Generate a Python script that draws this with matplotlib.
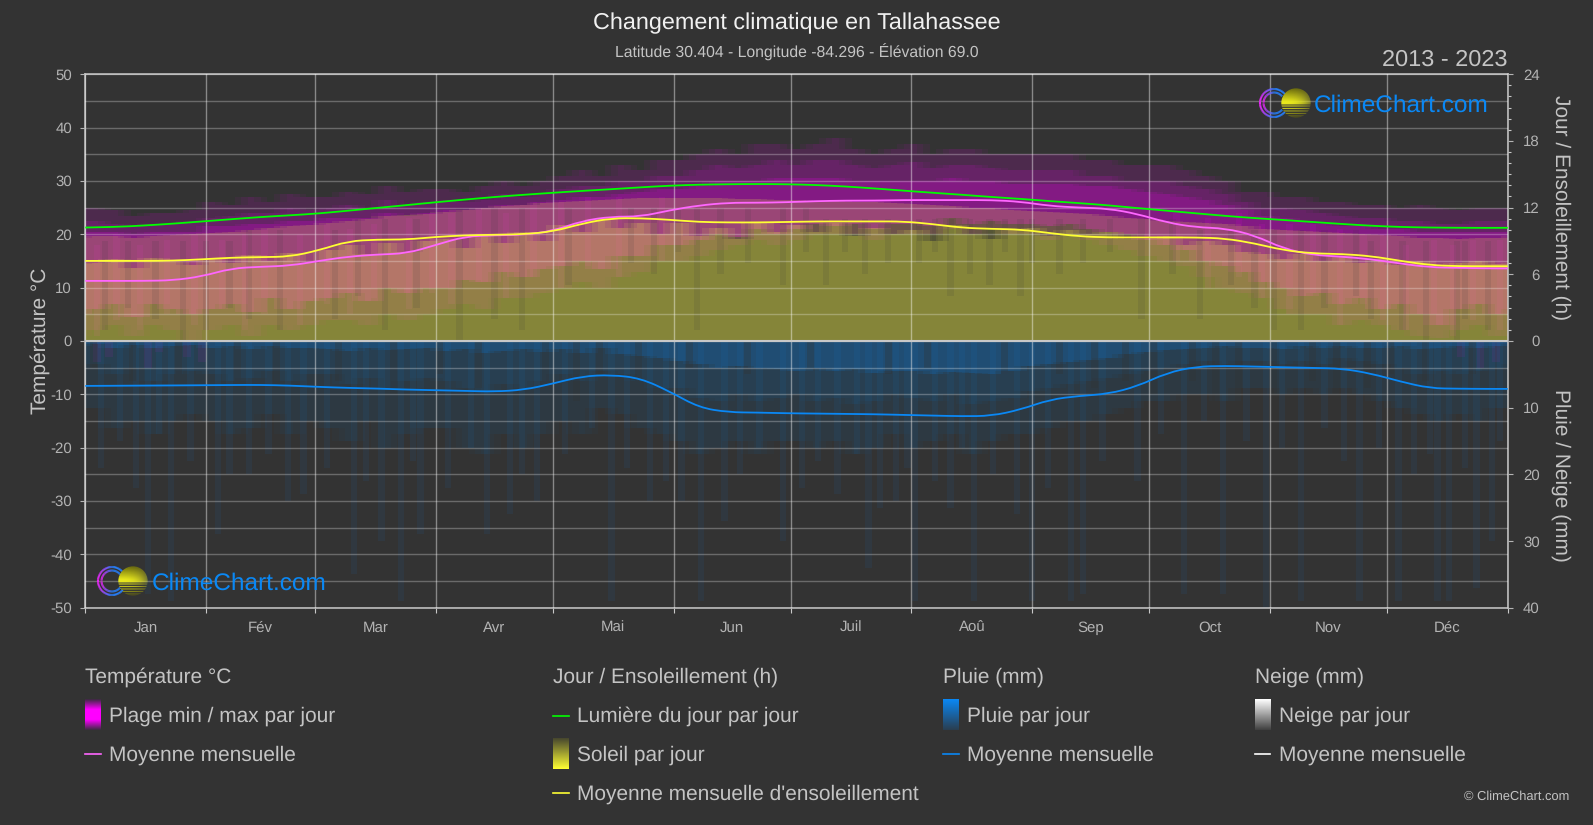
"""
Climate chart for Tallahassee, 2013 - 2023.
Daily spreads are held as 5-day readings, monthly curves as 7.5-day readings.
"""

import matplotlib
matplotlib.use("Agg")
import matplotlib.pyplot as plt
import numpy as np
from matplotlib.colors import LinearSegmentedColormap
from matplotlib.patches import Circle, PathPatch
from matplotlib.path import Path

plt.rcParams["font.family"] = ["Liberation Sans", "DejaVu Sans"]
plt.rcParams["axes.unicode_minus"] = False
plt.rcParams["text.hinting"] = "none"

BG_COLOR = "#333333"
TEXT_COLOR = "#c4c4c4"
TICK_COLOR = "#b4b4b4"
AXIS_COLOR = "#c8c8c8"
MAGENTA = "#ff00ff"
MAGENTA_LINE = "#ff66ff"
SUN_BAR = "#ffff46"
SUN_LINE = "#ffff33"
DAY_LINE = "#00ff00"
RAIN = "#0a88f5"

W, H = 1593, 825
LEFT, RIGHT, TOP, BOTTOM = 85.3, 1507.7, 74.2, 607.6

HOUR_TO_Y = 50 / 24
MM_TO_Y = -50 / 40

MONTH_EDGES = [0, 31, 59, 90, 120, 151, 181, 212, 243, 273, 304, 334, 365]
MONTHS = ["Jan", "Fév", "Mar", "Avr", "Mai", "Jun", "Juil", "Aoû", "Sep", "Oct", "Nov", "Déc"]

# 5-day readings, 73 per series
t_hi = [25, 24.5, 23.5, 24, 24, 24.5, 26, 25.5, 27, 26, 27.5, 27, 27, 28, 27.5, 29, 28, 28.5,
        28.5, 28, 29, 30, 29, 30, 31, 32, 31, 33, 32, 34, 34, 35, 36, 35, 37, 37,
        36, 37, 38, 36, 35, 36, 37, 35, 36, 36, 35, 35, 35, 35, 35, 34, 34, 33,
        33, 33, 32, 31, 30, 28, 28, 27, 27, 26, 26, 25.5, 25.5, 25, 25.5, 25, 24.5, 25, 25]
t_mid = [22.5, 22, 21.5, 22, 22, 22.5, 23, 23.5, 24, 24, 25, 24.5, 25, 25.5, 25, 26.5, 25.5, 26,
         26.5, 26, 26.5, 27.5, 27, 27.5, 28.5, 29, 29, 30, 30, 31, 31, 32, 33, 32.5, 33, 34,
         33, 34, 34, 33, 32.5, 33, 33.5, 32.5, 33, 33, 32.5, 32, 32, 32, 32, 31, 31, 30,
         30, 30, 29, 28.5, 27.5, 26, 25, 25, 24.5, 24, 23.5, 23, 23, 22.5, 22.5, 22, 22, 22.5, 22.5]
t_top = [20.5, 20.5, 20, 20.5, 20.5, 20.5, 21.5, 21.5, 22, 22, 22.5, 22.5, 23, 23, 23, 24, 23.5, 24,
         24.5, 24.5, 25, 25.5, 25.5, 26, 26.5, 27, 27, 27.5, 28, 28.5, 28.5, 29, 30, 30, 30, 30.5,
         30.5, 30.5, 30.5, 30, 30, 30, 30, 30, 30.5, 30, 30, 29.5, 29.5, 29.5, 29.5, 29, 29, 28.5,
         28, 27.5, 27, 26.5, 25.5, 24.5, 23.5, 23, 22.5, 22, 21.5, 21.5, 21, 21, 20.5, 20.5, 20.5, 20.5, 20.5]
t_low_a = [6, 7, 4.5, 7, 6, 5, 6, 7, 5.5, 8, 6, 7.5, 8, 9, 7.5, 10, 9, 10,
           10, 11.5, 11, 13, 12, 13.5, 14, 15, 13.5, 16, 16, 18, 18, 19, 20, 19.5, 21, 20,
           21, 22, 21.5, 22, 21, 22, 22, 21.5, 23, 22, 22.5, 22, 22, 21.5, 22, 21, 20.5, 20,
           19, 18, 17, 15, 14, 13, 11, 10, 8.5, 9, 7, 8, 6, 7, 5, 3, 6, 7, 5]
t_low_b = [2, 3, 1, 3, 2, 0, 2, 3, 1, 3, 2, 3, 4, 4, 3, 5, 4, 5,
           6, 7, 6, 8, 8, 9, 10, 11, 10, 12, 13, 15, 15, 16, 17, 18, 19, 18,
           19, 20, 20, 20, 19, 20, 20, 20, 21, 20, 21, 20, 20, 19, 20, 19, 18, 17,
           16, 15, 14, 12, 10, 9, 8, 6, 5, 5, 3, 4, 3, 2, 1, 0.5, 2, 3, 1]
sun_hi = [9.4, 9.4, 9.3, 9.4, 9.5, 9.6, 9.7, 9.8, 10, 10.2, 10.3, 10.4, 10.6, 10.8, 11, 11.2, 11.3, 11.4,
          11.6, 11.8, 12, 12.1, 12.2, 12.4, 12.5, 12.6, 12.7, 12.8, 12.9, 12.9, 12.9, 12.9, 12.9, 12.8, 12.8, 12.7,
          12.7, 12.6, 12.6, 12.5, 12.5, 12.4, 12.3, 12.2, 12.1, 12, 12, 11.8, 11.7, 11.6, 11.5, 11.4, 11.2, 11.1,
          11, 10.8, 10.7, 10.6, 10.5, 10.3, 10.1, 10, 9.9, 9.8, 9.7, 9.6, 9.5, 9.4, 9.3, 9.3, 9.2, 9.3, 9.3]
sun_lo = [7, 7.4, 6.6, 7.5, 7.1, 6.8, 7.4, 7, 7.7, 7.2, 7.9, 7, 8.2, 8.6, 7.8, 8.8, 8, 9,
          9.2, 8.4, 9.6, 8.8, 9.8, 9, 10.4, 9.8, 11, 10.2, 10.6, 9.6, 10.6, 9.4, 10.2, 9.2, 10.6, 9.8,
          10.4, 9.8, 10.6, 9.4, 10.2, 9.6, 10, 9, 10.4, 9.6, 9.2, 10, 10.2, 9.4, 10, 9.6, 9.8, 9.2,
          9.2, 9.4, 8.6, 9, 8.6, 8, 7.8, 7.4, 7.8, 7.2, 7.6, 7, 7.4, 6.8, 7.2, 6.6, 7, 7.2, 6.9]
rain_a = [0.5, 1, 0.6, 1, 0.8, 0.6, 1, 0.8, 1.2, 0.8, 1, 1, 1.2, 1.5, 1, 1.4, 1.2, 1,
          1.5, 1.2, 1.8, 1.5, 1.2, 1.6, 1.2, 1.8, 1, 2, 2.2, 2.6, 3, 3.5, 4, 3.8, 4, 4.2,
          4.5, 4, 4.5, 4.2, 4.8, 4.5, 4.5, 5, 4.6, 4.8, 5, 4.5, 3.8, 3.5, 3.2, 2.8, 2.5, 2,
          1.6, 1.4, 1.2, 1, 0.8, 1, 1, 1.2, 0.8, 1, 0.8, 1, 1, 0.8, 1.2, 1, 0.8, 1, 0.8]
rain_b = [3.5, 5, 4, 6, 5, 4.5, 5, 6, 5.5, 4.5, 6, 5, 5, 6.5, 5.5, 7, 6, 5.5,
          6, 7, 8, 6.5, 7, 6, 5, 6, 4.5, 5, 6, 7, 7, 8.5, 9, 8, 9, 8.5,
          8, 9, 8.5, 9.5, 9, 8, 8.5, 9, 8, 9.5, 9, 8.5, 7.5, 7, 6.5, 6, 5.5, 5,
          4.5, 4, 3.5, 3, 3.5, 3, 3, 3.5, 3, 3.5, 2.5, 3, 3.5, 4, 5, 4.5, 5, 4.5, 4]
rain_c = [10, 13, 12, 14, 12, 11, 12, 14, 13, 11, 14, 12, 13, 15, 12, 16, 14, 13,
          13, 16, 17, 14, 16, 14, 12, 14, 10, 11, 13, 14, 15, 17, 16, 15, 17, 15,
          15, 16, 15, 17, 16, 14, 16, 15, 14, 17, 15, 14, 14, 13, 12, 12, 11, 10,
          9, 9, 8, 8, 9, 7, 7, 8, 7, 8, 7, 8, 9, 10, 11, 12, 11, 12, 10]

# single wet days: (day, mm)
RAIN_DAYS = [(16, 38), (22, 39), (34, 29), (42, 20), (56, 23), (69, 35), (76, 30), (81, 39), (86, 29),
             (103, 29), (109, 26), (116, 24), (135, 39), (145, 24), (158, 39), (164, 27), (179, 30),
             (201, 34), (204, 25), (211, 19), (213, 39), (222, 25), (228, 39), (239, 26), (243, 39),
             (253, 39), (256, 38), (282, 38), (292, 38), (303, 40), (312, 39), (327, 39), (337, 39),
             (347, 39), (350, 39), (357, 37), (361, 30),
             (4, 19), (9, 15), (13, 22), (19, 14), (27, 18), (37, 20), (47, 17), (52, 24), (62, 19),
             (72, 21), (84, 18), (93, 22), (99, 16), (112, 20), (123, 17), (130, 13), (139, 19),
             (149, 21), (153, 24), (168, 20), (173, 16), (184, 22), (188, 18), (193, 23), (198, 17),
             (208, 24), (218, 21), (225, 16), (233, 20), (247, 22), (261, 18), (270, 21), (276, 14),
             (287, 12), (298, 15), (307, 16), (318, 13), (323, 18), (332, 16), (341, 20), (345, 17),
             (354, 19), (363, 15)]
# dry gaps at the top of the rain area: (day, mm)
DRY_DAYS = [(2, 4), (12, 6), (24, 5), (39, 6), (49, 7), (65, 6), (79, 8), (91, 5), (101, 7), (118, 6),
            (126, 9), (132, 5), (142, 6), (155, 4), (170, 5), (186, 4), (206, 5), (216, 4), (236, 5),
            (250, 5), (259, 7), (267, 6), (274, 8), (284, 6), (290, 9), (296, 7), (305, 8), (315, 6),
            (321, 9), (329, 7), (335, 5), (344, 6), (356, 5)]
# overcast days: (day, lowest h, highest h)
CLOUDY_DAYS = [(11, 3, 9), (31, 1, 9), (42, 2, 10), (77, 1, 11), (105, 2, 12), (140, 7, 12), (157, 1, 12),
               (179, 5, 12), (190, 5, 11), (200, 6, 11), (214, 7, 11), (222, 4, 11), (227, 6, 11),
               (232, 5, 11), (240, 4, 11), (243, 7, 11), (250, 6, 11), (271, 2, 11), (279, 6, 11),
               (294, 5, 10), (312, 1, 10), (326, 4, 10), (330, 2, 9), (352, 0, 9), (354, 2, 9),
               (5, 1, 9), (18, 2, 9), (25, 0, 9), (37, 3, 9), (50, 1, 10), (64, 2, 10), (70, 4, 11),
               (85, 3, 11), (96, 0, 12), (112, 1, 12), (124, 5, 12), (146, 6, 12), (152, 8, 12),
               (163, 6, 12), (170, 7, 12), (185, 8, 12), (195, 8, 11), (206, 7, 11), (218, 8, 11),
               (236, 8, 11), (256, 7, 11), (263, 8, 11), (286, 2, 10), (300, 3, 10), (305, 1, 10),
               (318, 3, 10), (338, 1, 9), (344, 0, 9), (360, 1, 9)]
# wide swings in the temperature spread: (day, lowest °C, highest °C)
SWING_DAYS = [(3, 1, 18), (8, 4, 20), (14, 2, 18), (21, 5, 19), (28, 3, 20), (35, 6, 19), (41, 2, 20),
              (46, 5, 21), (55, 3, 20), (62, 7, 22), (68, 5, 21), (74, 8, 22), (83, 6, 23), (89, 9, 24),
              (94, 7, 24), (101, 11, 25), (108, 8, 24), (115, 12, 26), (122, 10, 26), (129, 14, 27),
              (137, 12, 27), (148, 15, 27), (280, 15, 24), (288, 10, 23), (296, 12, 24), (302, 8, 22),
              (309, 5, 22), (315, 9, 22), (322, 3, 21), (328, 7, 20), (333, 4, 20), (339, 2, 18),
              (346, 5, 19), (351, 1, 18), (356, 4, 19), (363, 2, 19)]
# days below freezing: (day, lowest °C)
COLD_DAYS = [(3, -4), (6, -3), (16, -5), (19, -2), (26, -3), (30, -4), (353, -3), (358, -5), (362, -4)]

# monthly curves
line_days = list(np.arange(0, 360.1, 7.5)) + [365]
temp_mean = [11.25, 11.25, 11.25, 11.35, 12.1, 13.6, 13.9, 14.1, 15, 15.8, 16.2, 16.4, 18, 19.6, 19.8, 19.9, 20.6,
             22.5, 23.3, 23.3, 24.5, 25.4, 25.9, 25.9, 26, 26.2, 26.3, 26.3, 26.4, 26.4, 26.4, 26.4, 26.1, 25.3,
             25, 24.8, 23.8, 22.2, 21.3, 21.1, 19.8, 17.3, 16.1, 15.8, 15.3, 14.5, 13.8, 13.7, 13.6, 13.6]
sun_mean = [7.2, 7.2, 7.2, 7.22, 7.34, 7.49, 7.54, 7.58, 8.16, 8.98, 9.12, 9.12, 9.36, 9.5, 9.55, 9.6, 9.84,
            10.56, 11.04, 11.04, 10.9, 10.7, 10.66, 10.66, 10.7, 10.75, 10.75, 10.75, 10.75, 10.51, 10.18, 10.08,
            10.03, 9.7, 9.41, 9.31, 9.31, 9.31, 9.31, 9.22, 8.78, 8.16, 7.87, 7.82, 7.63, 7.2, 6.82, 6.72, 6.72, 6.72]
daylight = [10.2, 10.25, 10.38, 10.55, 10.75, 10.95, 11.15, 11.3, 11.47, 11.72, 11.97, 12.22, 12.48, 12.72, 12.95,
            13.15, 13.33, 13.5, 13.65, 13.82, 13.97, 14.06, 14.1, 14.12, 14.1, 14.03, 13.9, 13.72, 13.52, 13.33,
            13.15, 12.95, 12.78, 12.58, 12.4, 12.2, 11.95, 11.72, 11.48, 11.25, 11.05, 10.88, 10.7, 10.52, 10.36,
            10.25, 10.2, 10.18, 10.17, 10.18]
rain_mean = [6.75, 6.73, 6.7, 6.68, 6.65, 6.62, 6.6, 6.7, 6.9, 7.05, 7.15, 7.3, 7.4, 7.5, 7.6, 7.35, 6.4, 5.3, 5.1,
             5.6, 7.6, 10, 10.7, 10.75, 10.85, 10.9, 10.95, 11, 11.1, 11.2, 11.3, 11.25, 10.3, 8.8, 8.25, 7.95, 6.8,
             4.8, 3.85, 3.75, 3.85, 3.95, 4.05, 4.15, 4.9, 6.1, 7.1, 7.17, 7.2, 7.2]


def band(ax, low, high, color, alpha, copies=3):
    """Layer of 5-day bars drawn a few times, shifted, so the steps blur like overlapping years."""
    low = np.asarray(low, float)
    high = np.asarray(high, float)
    # the year wraps, so pad with the other end
    low = np.r_[low[-2:], low, low[:2]]
    high = np.r_[high[-2:], high, high[:2]]
    days = (np.arange(len(high)) - 2) * 5 + 2.5
    each = 1 - (1 - alpha) ** (1 / copies)
    for k in range(copies):
        ax.bar(days + (k - (copies - 1) / 2) * 5 / copies, high - low, bottom=low, width=5.0, color=color,
               alpha=each, linewidth=0, antialiased=False, zorder=1)


def curve(ax, xs, ys, color):
    """Smooth line through the readings, the knots act as Bezier control points."""
    pts = np.column_stack([xs, ys])
    mids = (pts[:-1] + pts[1:]) / 2
    verts = [pts[0]]
    codes = [Path.MOVETO]
    for knot, mid in zip(pts[1:-1], mids[1:]):
        verts += [knot, mid]
        codes += [Path.CURVE3, Path.CURVE3]
    verts.append(pts[-1])
    codes.append(Path.LINETO)
    ax.add_patch(PathPatch(Path(verts, codes), fill=False, edgecolor=color, linewidth=1.3, zorder=4))


def draw_data(ax):
    # temperature spread first, the sun washes over it
    band(ax, t_low_b, t_hi, MAGENTA, 0.13)
    band(ax, t_low_a, t_mid, MAGENTA, 0.15)
    band(ax, t_low_a, t_top, MAGENTA, 0.20)
    for day, low in COLD_DAYS:
        ax.bar(day, -low, bottom=low, width=2, color=MAGENTA, alpha=0.08, linewidth=0, zorder=1)
    for day, low, high in SWING_DAYS:
        ax.bar(day, high - low, bottom=low, width=1.6, color=MAGENTA, alpha=0.09, linewidth=0, zorder=1)

    band(ax, np.zeros(73), np.array(sun_hi) * HOUR_TO_Y, SUN_BAR, 0.2)
    band(ax, np.zeros(73), np.array(sun_lo) * HOUR_TO_Y, SUN_BAR, 0.27)
    for day, low, high in CLOUDY_DAYS:
        ax.bar(day, (high - low) * HOUR_TO_Y, bottom=low * HOUR_TO_Y, width=1.6,
               color="#3a3a3a", alpha=0.13, linewidth=0, zorder=1.1)

    band(ax, np.array(rain_c) * MM_TO_Y, np.zeros(73), RAIN, 0.08)
    band(ax, np.array(rain_b) * MM_TO_Y, np.zeros(73), RAIN, 0.09)
    band(ax, np.array(rain_a) * MM_TO_Y, np.zeros(73), RAIN, 0.22)
    for day, mm in RAIN_DAYS:
        ax.bar(day, mm * MM_TO_Y, width=1.6, color=RAIN, alpha=0.07, linewidth=0, zorder=1)
    for day, mm in DRY_DAYS:
        ax.bar(day, mm * MM_TO_Y, width=1.8, color=BG_COLOR, alpha=0.3, linewidth=0, zorder=1.1)

    curve(ax, line_days, temp_mean, MAGENTA_LINE)
    curve(ax, line_days, np.array(daylight) * HOUR_TO_Y, DAY_LINE)
    curve(ax, line_days, np.array(sun_mean) * HOUR_TO_Y, SUN_LINE)
    curve(ax, line_days, np.array(rain_mean) * MM_TO_Y, RAIN)
    ax.axhline(0, color=AXIS_COLOR, linewidth=1.5, zorder=5)


def style_axes(ax):
    ax.set_xlim(0, 365)
    ax.set_ylim(-50, 50)
    ax.set_facecolor(BG_COLOR)

    ax.set_yticks(range(-50, 51, 10))
    ax.set_yticks(range(-45, 50, 10), minor=True)
    ax.tick_params(axis="y", which="major", colors=TICK_COLOR, labelsize=10.8, length=3.6, width=0.8, pad=6)
    ax.tick_params(axis="y", which="minor", length=0)
    ax.set_xticks(MONTH_EDGES)
    ax.set_xticklabels([])
    centers = [(a + b) / 2 for a, b in zip(MONTH_EDGES[:-1], MONTH_EDGES[1:])]
    ax.set_xticks(centers, minor=True)
    ax.set_xticklabels(MONTHS, minor=True, va="baseline")
    ax.tick_params(axis="x", which="major", colors=AXIS_COLOR, length=3.6, width=0.8)
    ax.tick_params(axis="x", which="minor", colors=TICK_COLOR, labelsize=10.8, length=0, pad=17.6)

    ax.set_axisbelow(False)
    ax.grid(axis="y", which="both", color="#ffffff", alpha=0.27, linewidth=1)
    ax.grid(axis="x", which="major", color="#ffffff", alpha=0.42, linewidth=1)

    for spine in ax.spines.values():
        spine.set_color(AXIS_COLOR)
        spine.set_linewidth(1.1)

    # right side: hours above the zero line, millimetres below
    ax2 = ax.twinx()
    ax2.set_ylim(-50, 50)
    hours = [0, 6, 12, 18, 24]
    rain_marks = [10, 20, 30, 40]
    ax2.set_yticks([h * HOUR_TO_Y for h in hours] + [m * MM_TO_Y for m in rain_marks])
    ax2.set_yticklabels([str(h) for h in hours] + [str(m) for m in rain_marks], ha="right")
    ax2.set_yticks([h * HOUR_TO_Y for h in range(1, 24) if h % 6], minor=True)
    ax2.tick_params(axis="y", which="major", colors=TICK_COLOR, labelsize=10.8, length=3.6, width=0.8, pad=19.5)
    ax2.tick_params(axis="y", which="minor", colors=AXIS_COLOR, length=2, width=0.8)
    for spine in ax2.spines.values():
        spine.set_visible(False)


def swatch(over, x, y0, y1, colors):
    cmap = LinearSegmentedColormap.from_list("swatch", colors)
    over.imshow(np.linspace(0, 1, 64)[:, None], cmap=cmap, extent=(x, x + 15.7, y1, y0), aspect="auto", zorder=3)


def legend_line(over, x, y, color):
    over.plot([x, x + 15.7], [y, y], color=color, linewidth=1.2)


def draw_logo(over, ring_x, sun_x, y, text_x):
    # two open rings, magenta on the left turning blue to the right
    angles = np.radians(np.linspace(40, 320, 60))
    start, end = np.array([0.9, 0.15, 0.95]), np.array([0.15, 0.5, 1.0])
    for radius in (14, 10.5):
        xs = ring_x + radius * np.cos(angles)
        ys = y + radius * np.sin(angles)
        for i in range(len(angles) - 1):
            t = 1 - abs(np.cos(angles[i])) if np.cos(angles[i]) < 0 else 1.0
            over.plot(xs[i:i + 2], ys[i:i + 2], color=start + (end - start) * t, linewidth=1.5,
                      solid_capstyle="butt", zorder=6)

    # sun: yellow disc, dim at the top, banded at the bottom, fading to the right
    img = np.zeros((60, 60, 4))
    rows = np.linspace(0, 1, 60)
    for r, t in enumerate(rows):
        strength = 0.42 + 0.5 * min(t / 0.45, 1) if t < 0.65 else 0.92 - 0.55 * (t - 0.65) / 0.35
        img[r, :, :3] = [strength, strength, strength * 0.12]
        band_on = t < 0.55 or int(t * 24) % 2 == 0
        img[r, :, 3] = (1.0 - 0.65 * np.linspace(0, 1, 60) ** 3) * (1 if band_on else 0)
    sun = over.imshow(img, extent=(sun_x - 14.7, sun_x + 14.7, y + 14.7, y - 14.7), aspect="auto", zorder=7)
    sun.set_clip_path(Circle((sun_x, y), 14.7, transform=over.transData))

    over.text(text_x, y + 2.5, "ClimeChart.com", color=RAIN, fontsize=17.6, va="center", ha="left", zorder=7)


def draw_overlay(fig):
    over = fig.add_axes([0, 0, 1, 1], zorder=10)
    over.patch.set_alpha(0)

    def label(x, y, text, size=15, color=TEXT_COLOR, **kw):
        over.text(x, y, text, fontsize=size, color=color, va="center", **kw)

    label(796.5, 23, "Changement climatique en Tallahassee", size=16.8, color="#f0f0f0", ha="center")
    label(796.5, 52, "Latitude 30.404 - Longitude -84.296 - Élévation 69.0", size=11.3, ha="center")
    label(1507.7, 60, "2013 - 2023", size=16.9, ha="right")
    label(40, 341, "Température °C", ha="center", rotation=90)
    label(1561, 208, "Jour / Ensoleillement (h)", ha="center", rotation=270)
    label(1561, 475, "Pluie / Neige (mm)", ha="center", rotation=270)

    # legend columns
    label(85.3, 677, "Température °C")
    swatch(over, 85.3, 699, 730, ["#3d2a42", MAGENTA, MAGENTA, "#3d2a42"])
    label(109, 716, "Plage min / max par jour")
    legend_line(over, 85.3, 754, MAGENTA_LINE)
    label(109, 755, "Moyenne mensuelle")

    label(553.4, 677, "Jour / Ensoleillement (h)")
    legend_line(over, 553.4, 715.7, DAY_LINE)
    label(577, 716, "Lumière du jour par jour")
    swatch(over, 553.4, 738, 769, ["#47472e", "#ffff33"])
    label(577, 755, "Soleil par jour")
    legend_line(over, 553.4, 793, SUN_LINE)
    label(577, 794, "Moyenne mensuelle d'ensoleillement")

    label(943, 677, "Pluie (mm)")
    swatch(over, 943, 699, 730, [RAIN, "#2a3e50"])
    label(967, 716, "Pluie par jour")
    legend_line(over, 943, 754, RAIN)
    label(967, 755, "Moyenne mensuelle")

    label(1254.7, 677, "Neige (mm)")
    swatch(over, 1254.7, 699, 730, ["#ffffff", "#404040"])
    label(1279, 716, "Neige par jour")
    legend_line(over, 1254.7, 754, "#ffffff")
    label(1279, 755, "Moyenne mensuelle")

    label(1569.5, 797, "© ClimeChart.com", size=9.3, ha="right")

    draw_logo(over, 1274, 1296, 103, 1314)
    draw_logo(over, 112, 133, 581, 151.5)

    over.set_xlim(0, W)
    over.set_ylim(H, 0)
    over.axis("off")


def create_chart():
    fig = plt.figure(figsize=(W / 100, H / 100), dpi=100, facecolor=BG_COLOR)
    ax = fig.add_axes([LEFT / W, 1 - BOTTOM / H, (RIGHT - LEFT) / W, (BOTTOM - TOP) / H])
    draw_data(ax)
    style_axes(ax)
    draw_overlay(fig)
    fig.savefig("out.png", dpi=100, facecolor=BG_COLOR)
    plt.close(fig)


if __name__ == "__main__":
    create_chart()
